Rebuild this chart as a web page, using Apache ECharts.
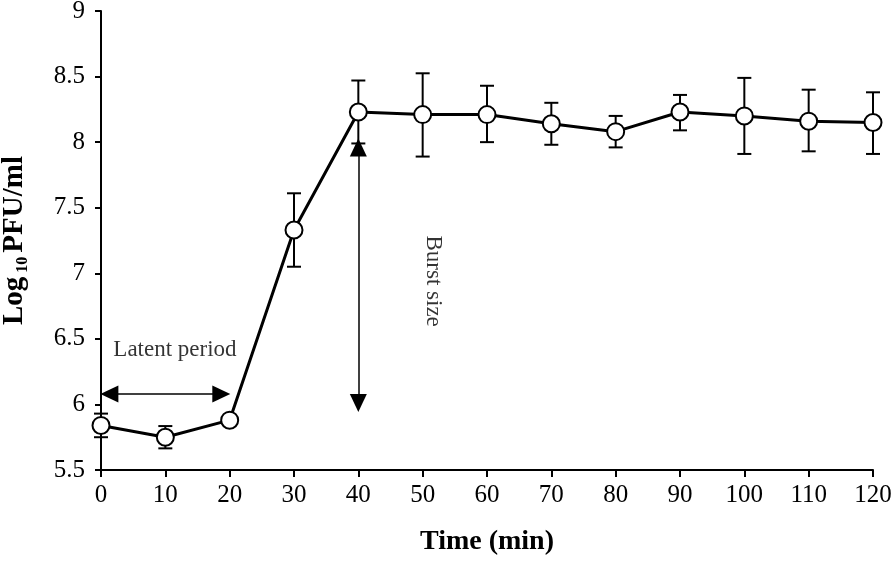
<!DOCTYPE html>
<html>
<head>
<meta charset="utf-8">
<script src="https://cdn.jsdelivr.net/npm/echarts@6/dist/echarts.min.js"></script>
<style>
html,body{margin:0;padding:0;background:#fff;}
#chart{width:896px;height:562px;}
</style>
</head>
<body>
<div id="chart"></div>
<script>
var times = [0, 10, 20, 30, 40, 50, 60, 70, 80, 90, 100, 110, 120];
var means = [5.84, 5.75, 5.88, 7.33, 8.23, 8.21, 8.21, 8.14, 8.08, 8.23, 8.20, 8.16, 8.15];
var upper = [5.93, 5.835, 5.91, 7.61, 8.47, 8.525, 8.43, 8.30, 8.20, 8.36, 8.49, 8.40, 8.38];
var lower = [5.75, 5.665, 5.85, 7.05, 7.99, 7.89, 8.00, 7.98, 7.96, 8.09, 7.91, 7.93, 7.91];
// arrowhead centres (tips are a few px beyond)
var latentArrow = [[1.3, 6.08], [18.7, 6.08]];
var burstArrow = [[40, 7.96], [40, 6.01]];
var latentText = [11.5, 6.415];
var burstText = [51.6, 6.94];

var FONT = "'Liberation Serif', 'Times New Roman', serif";

var chart = echarts.init(document.getElementById('chart'));

var errData = times.map(function (t, i) { return [t, lower[i], upper[i]]; });
var lineData = times.map(function (t, i) { return [t, means[i]]; });

chart.setOption({
  animation: false,
  backgroundColor: '#fff',
  grid: { left: 101, right: 23, top: 11, bottom: 92, containLabel: false, outerBoundsMode: 'none' },
  xAxis: {
    type: 'value', min: 0, max: 120, interval: 10,
    name: 'Time (min)', nameLocation: 'middle', nameGap: 58,
    nameTextStyle: { fontFamily: FONT, fontWeight: 'bold', fontSize: 28, color: '#000' },
    axisLine: { show: true, lineStyle: { color: '#000', width: 2 } },
    axisTick: { show: true, inside: false, length: 7, lineStyle: { color: '#000', width: 2 } },
    axisLabel: { fontFamily: FONT, fontSize: 25, color: '#000', margin: 13 },
    splitLine: { show: false }
  },
  yAxis: {
    type: 'value', min: 5.5, max: 9, interval: 0.5,
    name: '{a|Log}{b| 10 }{a|PFU/ml}', nameLocation: 'middle', nameGap: 70,
    nameTextStyle: {
      color: '#000',
      rich: {
        a: { fontFamily: FONT, fontWeight: 'bold', fontSize: 29, color: '#000', lineHeight: 32 },
        b: { fontFamily: FONT, fontWeight: 'bold', fontSize: 16, color: '#000', verticalAlign: 'bottom', lineHeight: 32 }
      }
    },
    axisLine: { show: true, lineStyle: { color: '#000', width: 2 } },
    axisTick: { show: true, inside: false, length: 6, lineStyle: { color: '#000', width: 2 } },
    axisLabel: { fontFamily: FONT, fontSize: 25, color: '#000', margin: 16 },
    splitLine: { show: false }
  },
  series: [
    {
      type: 'custom',
      z: 1,
      data: errData,
      renderItem: function (params, api) {
        var x = api.value(0);
        var lo = api.coord([x, api.value(1)]);
        var hi = api.coord([x, api.value(2)]);
        var hw = 7;
        var st = { stroke: '#000', lineWidth: 2 };
        return {
          type: 'group',
          children: [
            { type: 'line', shape: { x1: lo[0], y1: lo[1], x2: hi[0], y2: hi[1] }, style: st },
            { type: 'line', shape: { x1: hi[0] - hw, y1: hi[1], x2: hi[0] + hw, y2: hi[1] }, style: st },
            { type: 'line', shape: { x1: lo[0] - hw, y1: lo[1], x2: lo[0] + hw, y2: lo[1] }, style: st }
          ]
        };
      }
    },
    {
      type: 'line',
      z: 3,
      data: lineData,
      symbol: 'circle',
      symbolSize: 17,
      lineStyle: { color: '#000', width: 3 },
      itemStyle: { color: '#fff', borderColor: '#000', borderWidth: 2 },
      markLine: {
        silent: true,
        symbol: ['triangle', 'triangle'],
        symbolSize: [17, 18],
        itemStyle: { color: '#000' },
        lineStyle: { color: '#000', width: 1.5, type: 'solid' },
        label: { show: false },
        data: [
          [{ coord: latentArrow[0] }, { coord: latentArrow[1] }],
          [{ coord: burstArrow[0] }, { coord: burstArrow[1] }]
        ]
      }
    },
    {
      type: 'scatter',
      z: 4,
      symbolSize: 0,
      silent: true,
      data: [
        { value: latentText, label: { formatter: 'Latent period', rotate: 0 } },
        { value: burstText, label: { formatter: 'Burst size', rotate: -90 } }
      ],
      label: {
        show: true, position: 'inside',
        fontFamily: FONT, fontSize: 23, color: '#000', textBorderWidth: 0
      }
    }
  ]
});
</script>
</body>
</html>
